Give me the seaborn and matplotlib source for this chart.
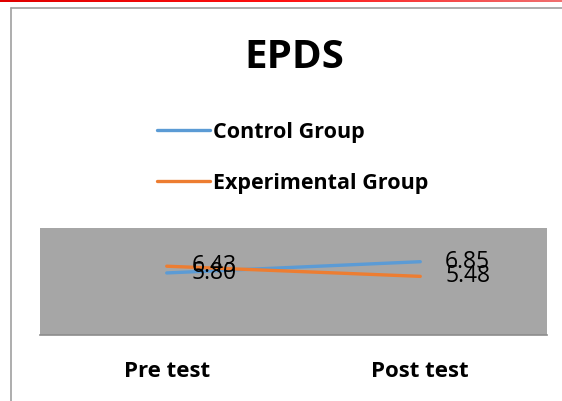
import numpy as np
import pandas as pd
import matplotlib.pyplot as plt
import seaborn as sns
from matplotlib.colors import LinearSegmentedColormap

tests = ["Pre test", "Post test"]
control = [5.80, 6.85]
experimental = [6.43, 5.48]

df = pd.DataFrame({
    "Test": tests * 2,
    "Score": control + experimental,
    "Group": ["Control Group"] * 2 + ["Experimental Group"] * 2,
})

sns.set_style("white")
plt.rcParams["font.family"] = ["Open Sans", "DejaVu Sans"]
plt.rcParams["text.color"] = "black"
plt.rcParams["xtick.color"] = "black"

fig = plt.figure(figsize=(5.62, 4.01), dpi=100)
ax = fig.add_axes([40 / 562, 1 - 335 / 401, 507 / 562, 107 / 401])

colors = {"Control Group": "#5B9BD5", "Experimental Group": "#ED7D31"}
sns.lineplot(data=df, x="Test", y="Score", hue="Group", palette=colors,
             linewidth=2.4, sort=False, ax=ax, legend=True)

ax.set_facecolor("#A6A6A6")
ax.set_xlim(-0.5, 1.5)
ax.set_ylim(0, 10)
ax.set_yticks([])
ax.set_xlabel("")
ax.set_ylabel("")
for s in ["top", "left", "right"]:
    ax.spines[s].set_visible(False)
ax.spines["bottom"].set_color("#8C8C8C")
ax.spines["bottom"].set_linewidth(1.2)
ax.tick_params(axis="x", length=0, pad=19, labelcolor="black")
for lab in ax.get_xticklabels():
    lab.set_fontweight("bold")
    lab.set_fontsize(16)

# data labels
for vals in [control, experimental]:
    for i, v in enumerate(vals):
        ax.annotate(f"{v:.2f}", (i, v), xytext=(18, 0), textcoords="offset points",
                    ha="left", va="center", fontsize=16.5, color="black")

handles, labels = ax.get_legend_handles_labels()
ax.get_legend().remove()
leg = fig.legend(handles, labels, loc="upper left", bbox_to_anchor=(157 / 562, 1 - 122 / 401),
                 frameon=False, borderpad=0, borderaxespad=0, handlelength=2.45,
                 handletextpad=0.15, labelspacing=1.38, prop={"weight": "bold", "size": 15.5})
for t in leg.get_texts():
    t.set_color("black")

fig.text(294 / 562, 1 - 57 / 401, "EPDS", ha="center", va="center",
         fontsize=29, fontweight="bold", color="black")

# chart border and red strip on top
fig.add_artist(plt.Line2D([10.5 / 562, 10.5 / 562], [0, 1 - 8 / 401], transform=fig.transFigure,
                          color="#A0A0A0", linewidth=1.2))
fig.add_artist(plt.Line2D([10.5 / 562, 1], [1 - 8 / 401, 1 - 8 / 401], transform=fig.transFigure,
                          color="#A0A0A0", linewidth=1.2))
bar = fig.add_axes([0, 1 - 2.5 / 401, 1, 2.5 / 401])
grad = np.linspace(0, 1, 256).reshape(1, -1)
cmap = LinearSegmentedColormap.from_list("red", ["#E00000", "#FF1010", "#F07070"])
bar.imshow(grad, aspect="auto", cmap=cmap)
bar.axis("off")

fig.savefig("out.png", dpi=100)
